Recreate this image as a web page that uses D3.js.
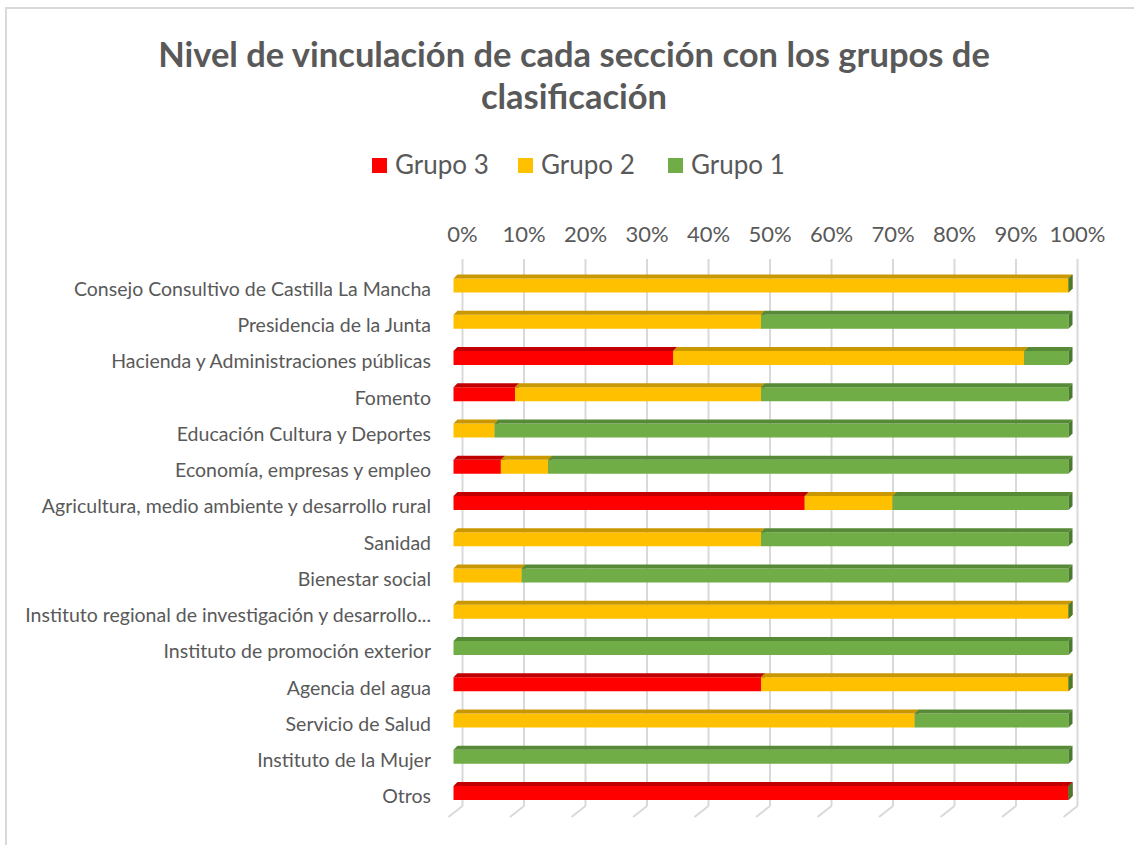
<!DOCTYPE html>
<html>
<head>
<meta charset="utf-8">
<script src="https://cdn.jsdelivr.net/npm/d3@7"></script>
<style>
  body { margin: 0; background: #fff; }
  svg { font-family: Lato, "Open Sans", sans-serif; }
  .title { font-weight: bold; fill: #595959; }
  .cat-label { fill: #595959; font-size: 19.5px; }
  .tick-label { fill: #595959; font-size: 22px; }
  .legend-label { fill: #595959; font-size: 26px; }
  .grid { stroke: #d9d9d9; stroke-width: 2; }
</style>
</head>
<body>
<div id="chart"></div>
<script>
// Data (percent of each section per group)
const categories = [
  'Consejo Consultivo de Castilla La Mancha',
  'Presidencia de la Junta',
  'Hacienda y Administraciones públicas',
  'Fomento',
  'Educación Cultura y Deportes',
  'Economía, empresas y empleo',
  'Agricultura, medio ambiente y desarrollo rural',
  'Sanidad ',
  'Bienestar social',
  'Instituto regional de investigación y desarrollo...',
  'Instituto de promoción exterior',
  'Agencia del agua',
  'Servicio de Salud',
  'Instituto de la Mujer',
  'Otros'
];
const grupo3 = [0, 0, 35.7, 10, 0, 7.7, 57.1, 0, 0, 0, 0, 50, 0, 0, 100];
const grupo2 = [100, 50, 57.1, 40, 6.7, 7.7, 14.3, 50, 11.1, 100, 0, 50, 75, 0, 0];
const grupo1 = [0, 50, 7.2, 50, 93.3, 84.6, 28.6, 50, 88.9, 0, 100, 0, 25, 100, 0];
const seriesNames = ['Grupo 3', 'Grupo 2', 'Grupo 1'];
const tickValues = [0, 10, 20, 30, 40, 50, 60, 70, 80, 90, 100];
const titleLines = ['Nivel de vinculación de cada sección con los grupos de', 'clasificación'];

const config = {
  width: 1134,
  height: 845,
  colors: { front: ['#ff0000', '#ffc000', '#70ad47'], top: ['#c00000', '#c99700', '#578a36'], side: ['#a00000', '#a67c00', '#4a7a2c'] },
  barHeight: 14,
  depth: 4,
  wallDx: 9,
  gridTop: 259,
  floorY: 806
};

const svg = d3.select('#chart').append('svg')
    .attr('width', config.width)
    .attr('height', config.height);

// Chart frame
svg.append('path')
    .attr('d', `M6,${config.height} V8 H${config.width}`)
    .attr('fill', 'none')
    .attr('stroke', '#d9d9d9')
    .attr('stroke-width', 2);

// Title
svg.append('text')
    .attr('class', 'title')
    .attr('text-anchor', 'middle')
    .attr('font-size', 34.5)
    .selectAll('tspan')
    .data(titleLines)
  .join('tspan')
    .attr('x', 574)
    .attr('y', (d, i) => 67 + i * 42)
    .text(d => d);

// Stack the series
const rows = categories.map((c, i) => ({ cat: c, g3: grupo3[i], g2: grupo2[i], g1: grupo1[i] }));
const stack = d3.stack().keys(['g3', 'g2', 'g1']);
const stacked = stack(rows);

// Scales
const xScale = d3.scaleLinear().domain([0, 100]).range([453.5, 1068.5]);
const yScale = d3.scalePoint().domain(categories).range([285.5, 793]);

// Back wall gridlines
const grid = svg.append('g');
grid.selectAll('.grid')
    .data(tickValues)
  .join('line')
    .attr('class', 'grid')
    .attr('x1', d => xScale(d) + config.wallDx)
    .attr('x2', d => xScale(d) + config.wallDx)
    .attr('y1', config.gridTop)
    .attr('y2', config.floorY);

// Floor ticks
grid.selectAll('.floor')
    .data(tickValues)
  .join('line')
    .attr('class', 'grid')
    .attr('x1', d => xScale(d) + config.wallDx)
    .attr('x2', d => xScale(d) + config.wallDx - 14)
    .attr('y1', config.floorY)
    .attr('y2', config.floorY + 11);

// Tick labels
svg.append('g').selectAll('text')
    .data(tickValues)
  .join('text')
    .attr('class', 'tick-label')
    .attr('text-anchor', 'middle')
    .attr('x', d => xScale(d) + config.wallDx)
    .attr('y', 242)
    .text(d => d + '%');

// Category labels
svg.append('g').selectAll('text')
    .data(categories)
  .join('text')
    .attr('class', 'cat-label')
    .attr('text-anchor', 'end')
    .attr('x', 431)
    .attr('y', d => yScale(d) + 3.5)
    .attr('dy', '0.35em')
    .text(d => d);

// 3D bars
const bars = svg.append('g');
const h = config.barHeight, dp = config.depth;
stacked.forEach((layer, si) => {
  const g = bars.append('g');
  layer.forEach((d, i) => {
    const x0 = xScale(d[0]), x1 = xScale(d[1]);
    const yTop = yScale(categories[i]) - h / 2;
    const isLast = si === stacked.length - 1;
    if (d[1] - d[0] <= 0 && !(isLast && d[1] >= 100)) return;
    if (x1 > x0) {
      g.append('rect')
          .attr('x', x0).attr('y', yTop)
          .attr('width', x1 - x0).attr('height', h)
          .attr('fill', config.colors.front[si]);
      g.append('path')
          .attr('d', `M${x0},${yTop} L${x0 + dp},${yTop - dp} L${x1 + dp},${yTop - dp} L${x1},${yTop} Z`)
          .attr('fill', config.colors.top[si]);
    }
    g.append('path')
        .attr('d', `M${x1},${yTop} L${x1 + dp},${yTop - dp} L${x1 + dp},${yTop + h - dp} L${x1},${yTop + h} Z`)
        .attr('fill', config.colors.side[si]);
  });
});

// Legend
const legendX = [372, 518, 668];
const legend = svg.append('g').selectAll('g')
    .data(seriesNames)
  .join('g')
    .attr('transform', (d, i) => `translate(${legendX[i]},158)`);
legend.append('rect')
    .attr('width', 15).attr('height', 15)
    .attr('fill', (d, i) => config.colors.front[i]);
legend.append('text')
    .attr('class', 'legend-label')
    .attr('x', 23)
    .attr('y', 16)
    .text(d => d);
</script>
</body>
</html>
